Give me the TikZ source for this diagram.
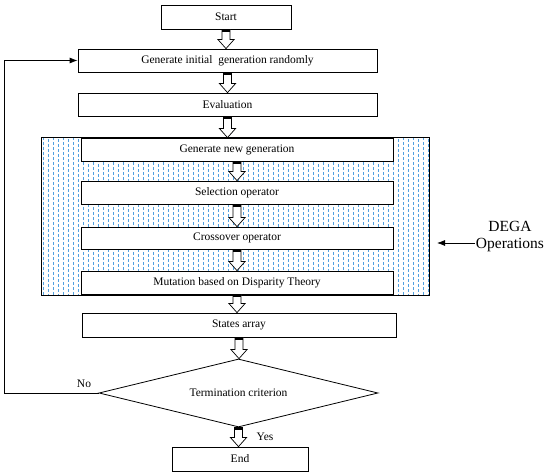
\documentclass[tikz,border=0pt]{standalone}
\usepackage{fontspec}
\setmainfont{Liberation Serif}
\usetikzlibrary{shapes.geometric,arrows.meta,calc}
\definecolor{hatchblue}{RGB}{80,160,225}
\newcommand\blockarrow[2]{%
  \draw[fill=white, line width=0.7pt] let \p1=(#1.south), \p2=(#2.north) in
    (\x1-4pt,\y1) -- (\x1+4pt,\y1) -- (\x1+4pt,\y2+9pt) -- (\x1+8pt,\y2+9pt) -- (\x1,\y2)
    -- (\x1-8pt,\y2+9pt) -- (\x1-4pt,\y2+9pt) -- cycle;
  \fill let \p1=(#1.south) in (\x1-4pt,\y1) rectangle (\x1+4pt,\y1-2.5pt);
}
\begin{document}
\begin{tikzpicture}[x=1pt,y=-1pt, line width=0.8pt,
  box/.style={draw, fill=white, inner sep=0pt, minimum height=23pt, font=\fontsize{11.5}{13}\selectfont},
  lbl/.style={font=\fontsize{11.5}{13}\selectfont, inner sep=0pt},
  fb/.style={-{Latex[length=8pt,width=6pt]}}]
\useasboundingbox (0,0) rectangle (550,476);

% hatched frame
\begin{scope}
  \clip (41,137) rectangle (429,295);
  \foreach \i [evaluate=\i as \ph using {mod(\i,2)*2.5}] in {0,...,78} {
    \draw[hatchblue, line width=0.9pt, dash pattern=on 2.6pt off 2.4pt, dash phase=\ph pt]
      (43.5+\i*5,137) -- (43.5+\i*5,295);
  }
\end{scope}
\draw (41,137) rectangle (429,295);

\node[box, minimum width=130pt, minimum height=24pt] (start) at (226,17) {Start};
\node[box, minimum width=299pt] (init) at (227.5,60.5) {Generate initial~ generation randomly};
\node[box, minimum width=299pt] (eval) at (227.5,104.5) {Evaluation};
\node[box, minimum width=312pt] (gennew) at (237,149.5) {Generate new generation};
\node[box, minimum width=312pt] (sel) at (237,192.5) {Selection operator};
\node[box, minimum width=312pt, minimum height=22pt] (cross) at (237,238) {Crossover operator};
\node[box, minimum width=312pt] (mut) at (237,282.5) {Mutation based on Disparity Theory};
\node[box, minimum width=314pt, minimum height=24pt] (states) at (239,325) {States array};
\node[box, diamond, aspect=4.1, minimum width=279pt, minimum height=68pt] (term) at (238.5,393) {Termination criterion};
\node[box, minimum width=136pt, minimum height=24pt] (end) at (240,459) {End};

\blockarrow{start}{init}
\blockarrow{init}{eval}
\blockarrow{eval}{gennew}
\blockarrow{gennew}{sel}
\blockarrow{sel}{cross}
\blockarrow{cross}{mut}
\blockarrow{mut}{states}
\blockarrow{states}{term}
\blockarrow{term}{end}

\coordinate (fbl) at (4,393);
\draw[fb] (term.west) -- (fbl) |- (init.west);
\node[lbl] (no) at (84,384) {No};
\node[lbl] (yes) at (265,437) {Yes};

\node[font=\fontsize{15.5}{17}\selectfont, align=center, inner sep=1pt] (dega) at (510,237) {DEGA\\Operations};
\coordinate (degatip) at (437,243);
\draw[fb] (dega.west |- degatip) -- (degatip);
\end{tikzpicture}
\end{document}
